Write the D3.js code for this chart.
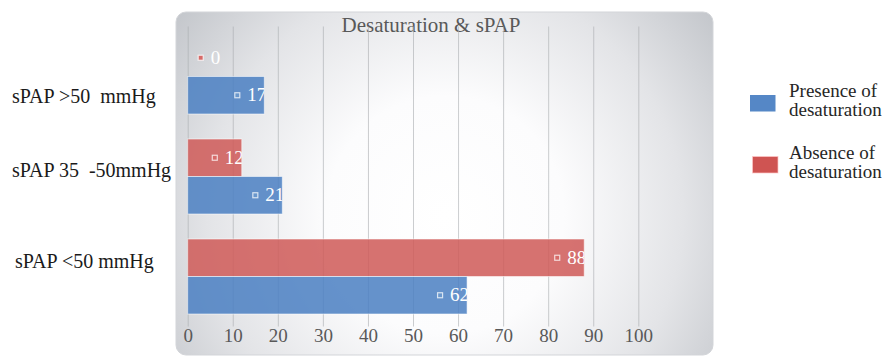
<!DOCTYPE html>
<html>
<head>
<meta charset="utf-8">
<script src="https://cdn.jsdelivr.net/npm/d3@7"></script>
<style>
  html, body { margin: 0; padding: 0; background: #ffffff; }
  svg { display: block; }
</style>
</head>
<body>
<svg id="chart" width="896" height="358"></svg>
<script>
// Data
const categories = ["sPAP >50  mmHg", "sPAP 35  -50mmHg", "sPAP <50 mmHg"];
const seriesNames = ["Absence of desaturation", "Presence of desaturation"];
const absenceValues = [0, 12, 88];
const presenceValues = [17, 21, 62];
const xTicks = [0, 10, 20, 30, 40, 50, 60, 70, 80, 90, 100];
const titleText = "Desaturation & sPAP";

// Layout
const W = 896, H = 358;
const panel = { x: 176, y: 12, w: 537, h: 343, r: 10 };
const plot = { left: 187.7, right: 638.3, top: 26.5, bottom: 326.5 };
const labelShift = [26, 0, -9];   // baseline offsets of the category labels from band centre
const serif = "'Liberation Serif', 'Times New Roman', serif";
const colors = {
  "Absence of desaturation": { bar: "#cf5b59", swatch: "#cf5452", marker: "#d66a68" },
  "Presence of desaturation": { bar: "#4c80c2", swatch: "#5587c6", marker: "#6a97cc" }
};

const svg = d3.select("#chart");
const defs = svg.append("defs");

// Panel background: soft radial gradient, white centre fading to grey
const grad = defs.append("radialGradient")
  .attr("id", "panelGrad")
  .attr("gradientUnits", "userSpaceOnUse")
  .attr("cx", 445).attr("cy", 215).attr("r", 340);
grad.append("stop").attr("offset", 0).attr("stop-color", "#ffffff");
grad.append("stop").attr("offset", 0.35).attr("stop-color", "#fcfcfd");
grad.append("stop").attr("offset", 0.7).attr("stop-color", "#e3e4e7");
grad.append("stop").attr("offset", 1).attr("stop-color", "#c2c5ca");

svg.append("rect")
  .attr("x", panel.x).attr("y", panel.y)
  .attr("width", panel.w).attr("height", panel.h)
  .attr("rx", panel.r).attr("ry", panel.r)
  .attr("fill", "url(#panelGrad)")
  .attr("stroke", "#d3d5d9").attr("stroke-width", 1);

// Scales
const x = d3.scaleLinear().domain([0, 100]).range([plot.left, plot.right]);
const y = d3.scaleBand().domain(categories)
  .range([plot.top, plot.bottom])
  .paddingInner(0.25).paddingOuter(0.125);
const ySub = d3.scaleBand().domain(seriesNames).range([0, y.bandwidth()]).padding(0);

// Title
svg.append("text")
  .attr("x", 431).attr("y", 31.5)
  .attr("text-anchor", "middle")
  .attr("font-family", serif).attr("font-size", 21)
  .attr("fill", "#595959")
  .text(titleText);

// Vertical gridlines + tick labels via an axis
const xAxis = d3.axisBottom(x)
  .tickValues(xTicks)
  .tickSize(-(plot.bottom - plot.top))
  .tickPadding(0)
  .tickFormat(d3.format("d"));

const axisG = svg.append("g")
  .attr("transform", `translate(0,${plot.bottom})`)
  .call(xAxis);
axisG.select(".domain").remove();
axisG.selectAll(".tick line")
  .attr("stroke", "#a9abaf").attr("stroke-opacity", 0.6).attr("stroke-width", 1);
axisG.selectAll(".tick text")
  .attr("font-family", serif).attr("font-size", 19)
  .attr("fill", "#595959")
  .attr("dy", null)
  .attr("y", 15.5);

// Bars
const rows = [];
categories.forEach((c, i) => {
  rows.push({ cat: c, series: seriesNames[0], value: absenceValues[i] });
  rows.push({ cat: c, series: seriesNames[1], value: presenceValues[i] });
});

const barG = svg.append("g");
barG.selectAll("rect.bar")
  .data(rows)
  .join("rect")
  .attr("class", "bar")
  .attr("x", x(0))
  .attr("y", d => y(d.cat) + ySub(d.series))
  .attr("width", d => x(d.value) - x(0))
  .attr("height", ySub.bandwidth())
  .attr("fill", d => colors[d.series].bar)
  .attr("fill-opacity", 0.86)
  .attr("stroke", "rgba(255,255,255,0.55)")
  .attr("stroke-width", d => d.value > 0 ? 1 : 0);

// Data labels: small square marker followed by the value, clipped to the bar
rows.forEach((d, i) => {
  const by = y(d.cat) + ySub(d.series);
  const bh = ySub.bandwidth();
  const cy = by + bh / 2;
  const end = x(d.value);
  const anchor = Math.max(end, x(0) + 40);
  const g = svg.append("g");
  if (d.value > 0) {
    const id = "clip" + i;
    defs.append("clipPath").attr("id", id)
      .append("rect")
      .attr("x", x(0)).attr("y", by)
      .attr("width", end - x(0)).attr("height", bh);
    g.attr("clip-path", `url(#${id})`);
  }
  g.append("rect")
    .attr("x", anchor - 27 - 2.5).attr("y", cy - 2.5)
    .attr("width", 5).attr("height", 5)
    .attr("fill", colors[d.series].marker)
    .attr("stroke", "rgba(255,255,255,0.75)")
    .attr("stroke-width", 1.2);
  g.append("text")
    .attr("x", anchor - 17).attr("y", cy + 6)
    .attr("font-family", serif).attr("font-size", 19)
    .attr("fill", "#ffffff")
    .text(d.value);
});

// Category labels
svg.append("g").selectAll("text")
  .data(categories)
  .join("text")
  .attr("x", (d, i) => i === 2 ? 15 : 12)
  .attr("y", (d, i) => y(d) + y.bandwidth() / 2 + labelShift[i])
  .attr("font-family", serif).attr("font-size", 20)
  .attr("fill", "#1a1a1a")
  .attr("xml:space", "preserve")
  .style("white-space", "pre")
  .text(d => d);

// Legend (two-line entries)
const legendItems = [seriesNames[1], seriesNames[0]];
const legend = svg.append("g");
legendItems.forEach((name, i) => {
  const top = 95 + i * 61.5;
  legend.append("rect")
    .attr("x", 750 + i * 2.5).attr("y", top)
    .attr("width", 25.5).attr("height", 16.5)
    .attr("fill", colors[name].swatch)
    .attr("stroke", i === 1 ? "rgba(255,200,200,0.7)" : "none");
  const words = name.split(" ");
  const lines = [words.slice(0, 2).join(" "), words.slice(2).join(" ")];
  lines.forEach((line, k) => {
    legend.append("text")
      .attr("x", 789).attr("y", top + 2 + k * 19)
      .attr("font-family", serif).attr("font-size", 19)
      .attr("fill", "#262626")
      .text(line);
  });
});
</script>
</body>
</html>
